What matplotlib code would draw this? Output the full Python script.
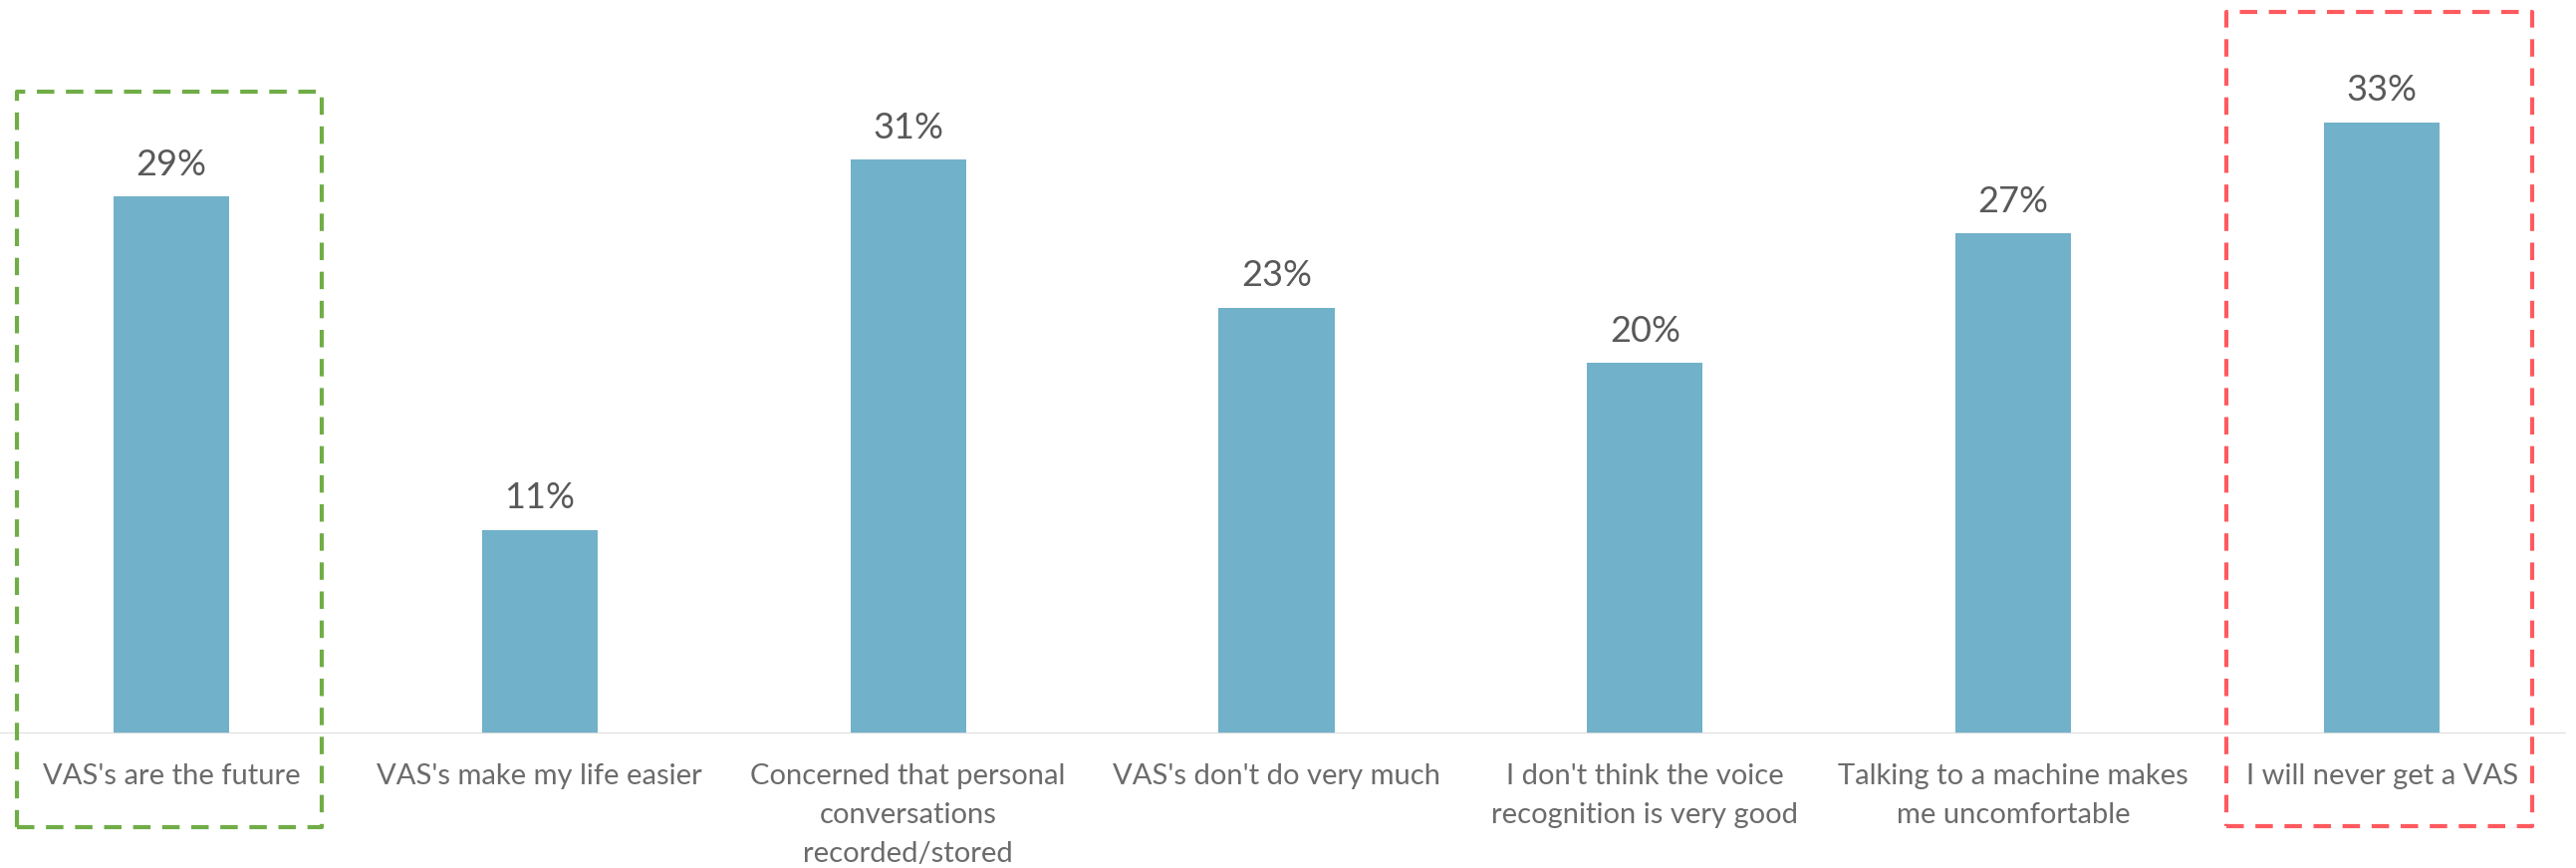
import matplotlib
matplotlib.use('Agg')
import matplotlib.pyplot as plt
from matplotlib.patches import Rectangle

# Survey data: attitudes to voice assistants (VAS)
categories = [
    "VAS's are the future",
    "VAS's make my life easier",
    "Concerned that personal\nconversations\nrecorded/stored",
    "VAS's don't do very much",
    "I don't think the voice\nrecognition is very good",
    "Talking to a machine makes\nme uncomfortable",
    "I will never get a VAS",
]
values = [29, 11, 31, 23, 20, 27, 33]

BAR_COLOR = '#71B1C9'
VALUE_COLOR = '#595959'
LABEL_COLOR = '#6B6B6B'
plt.rcParams['font.family'] = ['Lato', 'DejaVu Sans']

W, H = 2586, 871
fig = plt.figure(figsize=(W / 100, H / 100), dpi=100)
# axes: baseline at y=736px, spanning x 0..2576px
ax = fig.add_axes([0, (H - 736) / H, 2576 / W, 736 / H])

x = list(range(len(values)))
bars = ax.bar(x, values, width=0.314, color=BAR_COLOR, zorder=2)
ax.set_xlim(-0.465, 6.5)
ax.set_ylim(0, 39.6)

for rect, v in zip(bars, values):
    ax.annotate(f'{v}%', (rect.get_x() + rect.get_width() / 2, rect.get_height()),
                xytext=(0, 11), textcoords='offset points', ha='center', va='bottom',
                fontsize=26, color=VALUE_COLOR)

for i, cat in enumerate(categories):
    ax.annotate(cat, (i, 0), xytext=(0, -21.5), textcoords='offset points',
                ha='center', va='top', fontsize=21, color=LABEL_COLOR,
                linespacing=1.62, annotation_clip=False)

ax.axhline(0, color='#D9D9D9', linewidth=2, zorder=3)
ax.set_xticks([])
ax.set_yticks([])
for s in ax.spines.values():
    s.set_visible(False)

# highlight boxes (figure pixel coords)
def box(x0, y0, x1, y1, color):
    fig.patches.append(Rectangle((x0 / W, 1 - y1 / H), (x1 - x0) / W, (y1 - y0) / H,
                                 transform=fig.transFigure, fill=False,
                                 edgecolor=color, linewidth=3,
                                 linestyle=(0, (4.2, 2.8)), joinstyle='round'))

box(17, 92, 323, 830, '#70AD47')
box(2235, 12, 2542, 829, '#FF5A5F')

fig.savefig('out.png', dpi=100)
